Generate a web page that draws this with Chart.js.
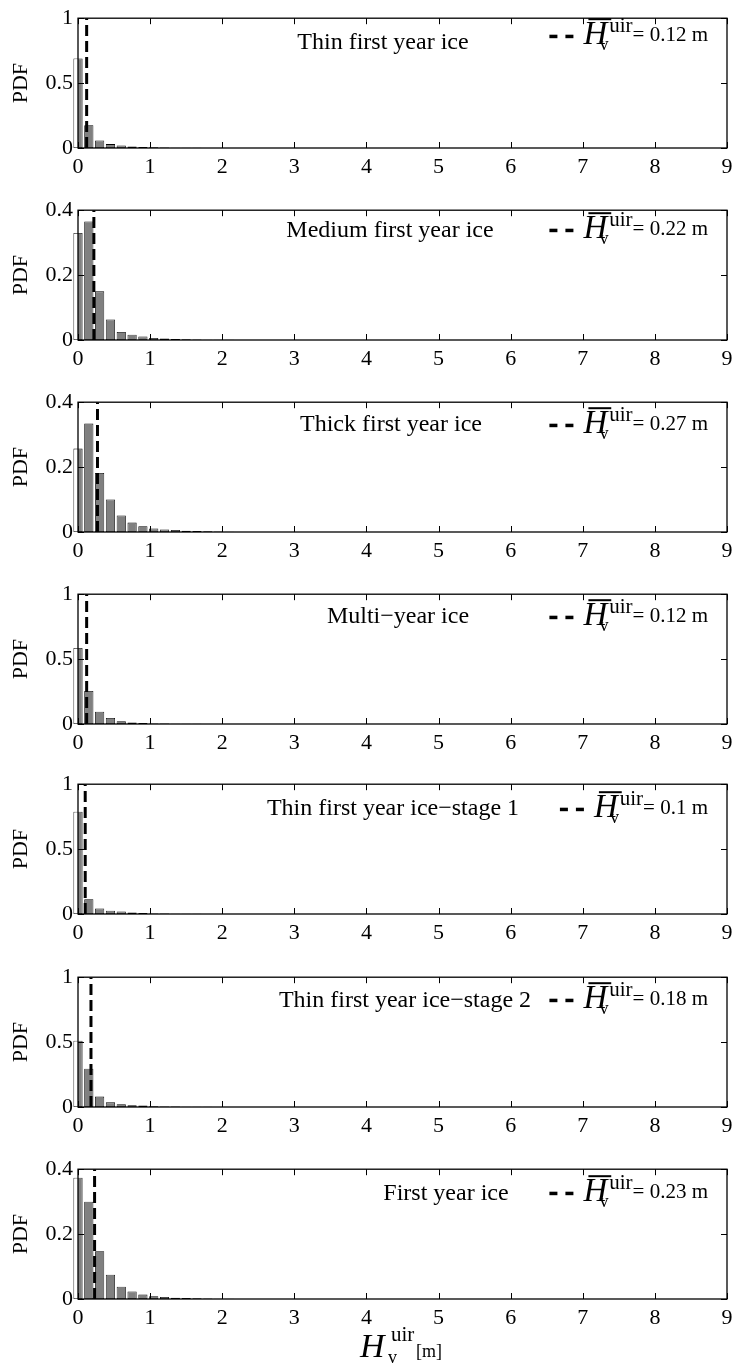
<!DOCTYPE html>
<html>
<head>
<meta charset="utf-8">
<script src="https://cdn.jsdelivr.net/npm/chart.js@4.4.0/dist/chart.umd.min.js"></script>
<style>
  body { margin: 0; background: #fff; }
  #wrap { position: relative; width: 739px; height: 1369px; overflow: hidden; }
  canvas { position: absolute; left: 0; }
</style>
</head>
<body>
<div id="wrap"></div>
<script>
// bin centres of the histograms [m]
const binCenters = [0, 0.15, 0.3, 0.45, 0.6, 0.75, 0.9, 1.05, 1.2, 1.35, 1.5, 1.65, 1.8, 1.95, 2.1];

// PDF values per ice class
const pdfThin   = [0.69, 0.175, 0.058, 0.03, 0.019, 0.012, 0.007, 0.005, 0.003, 0.002, 0.0015, 0.001, 0.0008, 0.0005, 0.0004];
const pdfMedium = [0.33, 0.365, 0.15, 0.063, 0.025, 0.016, 0.011, 0.0065, 0.0045, 0.003, 0.002, 0.0015, 0.001, 0.0007, 0.0005];
const pdfThick  = [0.257, 0.334, 0.182, 0.1, 0.051, 0.029, 0.0175, 0.011, 0.008, 0.006, 0.004, 0.003, 0.002, 0.0015, 0.001];
const pdfMulti  = [0.585, 0.254, 0.094, 0.046, 0.022, 0.012, 0.007, 0.004, 0.003, 0.002, 0.0015, 0.001, 0.0007, 0.0005, 0.0003];
const pdfStage1 = [0.788, 0.114, 0.043, 0.026, 0.019, 0.012, 0.007, 0.004, 0.003, 0.002, 0.0015, 0.001, 0.0007, 0.0005, 0.0003];
const pdfStage2 = [0.51, 0.295, 0.08, 0.036, 0.022, 0.014, 0.012, 0.006, 0.004, 0.003, 0.002, 0.0015, 0.001, 0.0007, 0.0005];
const pdfFirst  = [0.374, 0.3, 0.147, 0.075, 0.038, 0.023, 0.0136, 0.0087, 0.006, 0.004, 0.003, 0.002, 0.0015, 0.001, 0.0007];

const iceTypes = ["Thin first year ice", "Medium first year ice", "Thick first year ice", "Multi\u2212year ice",
                  "Thin first year ice\u2212stage 1", "Thin first year ice\u2212stage 2", "First year ice"];
const meanH = [0.12, 0.22, 0.27, 0.12, 0.1, 0.18, 0.23];
const yMax = [1, 0.4, 0.4, 1, 1, 1, 0.4];
const series = [pdfThin, pdfMedium, pdfThick, pdfMulti, pdfStage1, pdfStage2, pdfFirst];

// layout (pixels)
const panelTops = [10, 202, 394, 586, 776, 969, 1161];
const titleX = [383, 390, 391, 398, 393, 405, 446];
const titleY = [31, 27, 29, 29, 31, 30, 31];
const legendY = [18, 20, 23, 23, 25, 23, 24];

const serif = "'Liberation Serif', 'Times New Roman', serif";
const tickFont = { family: serif, size: 22 };
const grey = "#808080";

// grey bars, white where the first bar sticks out left of x = 0
function barFill(c) {
    const chart = c.chart;
    const sx = chart.scales && chart.scales.x;
    if (!sx || !chart.width) return grey;
    const p = sx.getPixelForValue(0) / chart.width;
    if (!isFinite(p) || p <= 0 || p >= 1) return grey;
    const g = chart.ctx.createLinearGradient(0, 0, chart.width, 0);
    g.addColorStop(0, "#fff");
    g.addColorStop(p, "#fff");
    g.addColorStop(p, grey);
    g.addColorStop(1, grey);
    return g;
}

const framePlugin = {
    id: "frame",
    afterDraw(chart) {
        const { ctx, chartArea: a, scales } = chart;
        ctx.save();
        ctx.strokeStyle = "#000";
        ctx.lineWidth = 1.3;
        ctx.strokeRect(a.left, a.top, a.width, a.height);
        ctx.lineWidth = 1;
        ctx.beginPath();
        scales.x.ticks.forEach(t => {
            const px = Math.round(scales.x.getPixelForValue(t.value)) + 0.5;
            ctx.moveTo(px, a.bottom); ctx.lineTo(px, a.bottom - 6);
            ctx.moveTo(px, a.top); ctx.lineTo(px, a.top + 6);
        });
        scales.y.ticks.forEach(t => {
            const py = Math.round(scales.y.getPixelForValue(t.value)) + 0.5;
            ctx.moveTo(a.left, py); ctx.lineTo(a.left + 6, py);
            ctx.moveTo(a.right, py); ctx.lineTo(a.right - 6, py);
        });
        ctx.stroke();
        ctx.restore();
    }
};

const textPlugin = {
    id: "texts",
    afterDraw(chart, args, opts) {
        const { ctx, chartArea: a } = chart;
        const i = opts.index;
        ctx.save();
        ctx.fillStyle = "#000";
        ctx.textBaseline = "alphabetic";

        // panel title
        ctx.font = `24px ${serif}`;
        ctx.textAlign = "center";
        ctx.fillText(iceTypes[i], titleX[i], a.top + titleY[i]);
        ctx.textAlign = "left";

        // legend: - -  H̄_v^uir = x m
        const cy = a.top + legendY[i];
        const eq = "= " + meanH[i] + " m";
        ctx.font = `21px ${serif}`;
        const wEq = ctx.measureText(eq).width;
        const wU = ctx.measureText("uir").width;
        ctx.font = `italic 33px ${serif}`;
        const wH = ctx.measureText("H").width;
        const total = 24 + 10 + wH + 2 + wU + wEq;
        const x0 = 708 - total;
        ctx.fillRect(x0, cy - 1.5, 8, 3.5);
        ctx.fillRect(x0 + 16, cy - 1.5, 8, 3.5);
        const xH = x0 + 34;
        ctx.fillText("H", xH, cy + 8);
        ctx.fillRect(xH + 5, cy - 18, wH - 1, 2);
        ctx.font = `18px ${serif}`;
        ctx.fillText("v", xH + wH * 0.68, cy + 14);
        ctx.font = `21px ${serif}`;
        const xU = xH + wH + 2;
        ctx.fillText("uir", xU, cy - 4);
        ctx.fillText(eq, xU + wU, cy + 5);

        // x axis title on the last panel
        if (opts.axisTitle) {
            const by = a.bottom + 58;
            ctx.font = `italic 34px ${serif}`;
            ctx.fillText("H", 360, by);
            ctx.font = `18px ${serif}`;
            ctx.fillText("v", 388, by + 6);
            ctx.font = `21px ${serif}`;
            ctx.fillText("uir", 391, by - 16);
            ctx.font = `18px ${serif}`;
            ctx.fillText("[m]", 416, by);
        }
        ctx.restore();
    }
};

const wrap = document.getElementById("wrap");

series.forEach((vals, i) => {
    const top = panelTops[i] - 10;
    const h = i === series.length - 1 ? 1369 - top : 192;
    const canvas = document.createElement("canvas");
    canvas.width = 739;
    canvas.height = h;
    canvas.style.top = top + "px";
    wrap.appendChild(canvas);

    new Chart(canvas, {
        type: "bar",
        data: {
            datasets: [
                {
                    type: "line",
                    data: [{ x: meanH[i], y: 0 }, { x: meanH[i], y: yMax[i] }],
                    borderColor: "#000",
                    borderWidth: 3,
                    borderDash: [11, 5],
                    pointRadius: 0,
                    order: 1
                },
                {
                    type: "bar",
                    data: binCenters.map((x, k) => ({ x: x, y: vals[k] })),
                    backgroundColor: barFill,
                    borderColor: "#000",
                    borderWidth: 0.8,
                    borderSkipped: false,
                    barPercentage: 0.85,
                    categoryPercentage: 1,
                    clip: false,
                    order: 2
                }
            ]
        },
        options: {
            responsive: false,
            animation: false,
            events: [],
            layout: { padding: { top: 10, right: 12, left: 0, bottom: 0 } },
            plugins: {
                legend: { display: false },
                tooltip: { enabled: false },
                texts: { index: i, axisTitle: i === series.length - 1 }
            },
            scales: {
                x: {
                    type: "linear",
                    min: 0,
                    max: 9,
                    offset: false,
                    grid: { display: false, drawTicks: false },
                    border: { display: false },
                    ticks: { stepSize: 1, font: tickFont, color: "#000", padding: 6, maxRotation: 0 },
                    afterFit: s => { s.height = h - 10 - 138; }
                },
                y: {
                    min: 0,
                    max: yMax[i],
                    grid: { display: false, drawTicks: false },
                    border: { display: false },
                    ticks: {
                        stepSize: yMax[i] / 2, font: tickFont, color: "#000", padding: 5,
                        callback: v => String(Math.round(v * 100) / 100)
                    },
                    title: { display: true, text: "PDF", font: tickFont, color: "#000", padding: { top: 8, bottom: 0 } },
                    afterFit: s => { s.width = 78; }
                }
            }
        },
        plugins: [framePlugin, textPlugin]
    });
});
</script>
</body>
</html>
